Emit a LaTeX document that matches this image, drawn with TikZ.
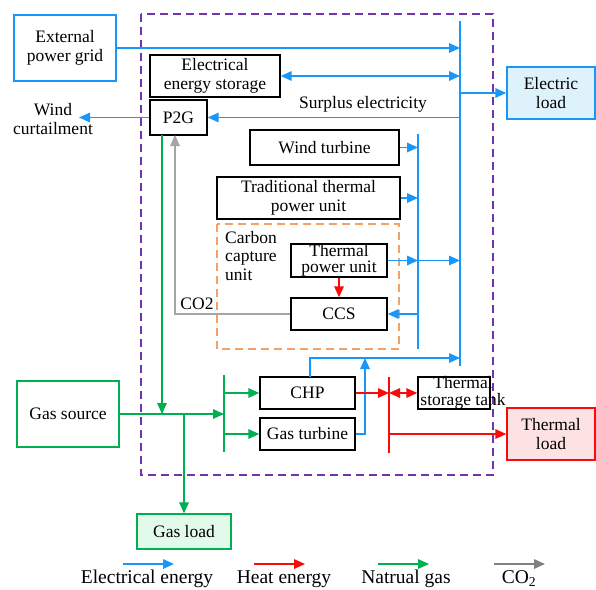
\documentclass[tikz,border=0pt]{standalone}
\usepackage{fontspec}
\setmainfont{Liberation Serif}
\usetikzlibrary{arrows.meta}
\definecolor{eblue}{RGB}{25,150,250}
\definecolor{hred}{RGB}{250,10,10}
\definecolor{ggreen}{RGB}{0,175,80}
\definecolor{cgray}{RGB}{165,165,165}
\definecolor{dpurple}{RGB}{115,50,175}
\definecolor{dorange}{RGB}{245,160,100}
\definecolor{efill}{RGB}{222,242,252}
\definecolor{tfill}{RGB}{252,226,226}
\definecolor{gfill}{RGB}{226,250,234}
\newcommand{\nf}{\fontsize{17.5}{18.5}\selectfont}
\newcommand{\lf}{\fontsize{19.5}{21}\selectfont}
\begin{document}
\begin{tikzpicture}[x=1pt,y=-1pt,
  box/.style={draw=black, line width=1.4pt, fill=white, align=center, inner sep=0pt, font=\nf},
  txt/.style={align=center, inner sep=0pt, font=\nf},
  tip/.style={-{Triangle[length=11pt,width=9.5pt]}},
  dtip/.style={{Triangle[length=11pt,width=9.5pt]}-{Triangle[length=11pt,width=9.5pt]}},
  el/.style={draw=eblue, line width=1.6pt, tip},
  ht/.style={draw=hred, line width=1.6pt, tip},
  gs/.style={draw=ggreen, line width=1.6pt, tip},
  co/.style={draw=cgray, line width=1.6pt, tip},
  busE/.style={draw=eblue, line width=1.6pt},
  busH/.style={draw=hred, line width=1.6pt},
  busG/.style={draw=ggreen, line width=1.6pt},
]
\useasboundingbox (0,0) rectangle (596,589);

% system boundary
\draw[dpurple, line width=1.5pt, dash pattern=on 8pt off 5pt] (141,14) rectangle (493,475);
% carbon capture unit boundary
\draw[dorange, line width=1.5pt, dash pattern=on 8pt off 5pt] (217,224) rectangle (399,349);

% nodes
\node[box, draw=eblue, minimum width=102, minimum height=66] (ext) at (65,48) {External\\power grid};
\node[box, minimum width=130, minimum height=42] (ees) at (215,76) {Electrical\\energy storage};
\node[box, draw=eblue, fill=efill, minimum width=88, minimum height=52] (eload) at (551,93) {Electric\\load};
\node[box, minimum width=57, minimum height=35] (p2g) at (178.5,117.5) {P2G};
\node[box, minimum width=149, minimum height=35] (wt) at (324.5,147.5) {Wind turbine};
\node[box, minimum width=183, minimum height=42] (ttpu) at (308.5,198) {Traditional thermal\\power unit};
\node[box, minimum width=96, minimum height=33, font=\fontsize{17.5}{16.5}\selectfont] (tpu) at (339,260.5) {Thermal\\power unit};
\node[box, minimum width=96, minimum height=32] (ccs) at (339,314) {CCS};
\node[box, draw=ggreen, minimum width=102, minimum height=66] (gsrc) at (68,414) {Gas source};
\node[box, draw=ggreen, fill=gfill, minimum width=94, minimum height=35] (gload) at (184,531.5) {Gas load};
\node[box, minimum width=95, minimum height=32] (chp) at (307.5,393) {CHP};
\node[box, minimum width=95, minimum height=32] (gt) at (307.5,434) {Gas turbine};
\node[box, minimum width=72, minimum height=32] (tst) at (454,393) {};
\node[txt, font=\fontsize{17.5}{16.5}\selectfont] (tsttext) at (463,393) {Thermal\\storage tank};
\node[box, draw=hred, fill=tfill, minimum width=88, minimum height=52] (tload) at (551,434) {Thermal\\load};

\node[txt] (wc) at (53,119) {Wind\\curtailment};
\node[txt] (surplus) at (363,104) {Surplus electricity};
\node[txt, align=left] (ccu) at (251,256) {Carbon\\capture\\unit};
\node[txt] (co2lab) at (197,304) {CO2};

% buses
\coordinate (bT) at (460,21);
\coordinate (bB) at (460,366);
\coordinate (sT) at (418,134);
\coordinate (sB) at (418,349);
\coordinate (gT) at (224,375);
\coordinate (gB) at (224,452);
\coordinate (rT) at (389,377);
\coordinate (rB) at (389,453);
\draw[busE] (bT) -- (bB);
\draw[busE] (sT) -- (sB);
\draw[busG] (gT) -- (gB);
\draw[busH] (rT) -- (rB);

% electrical connections
\draw[el] (ext.east) -- (ext.east -| bT);
\draw[el, dtip] (ees.east) -- (ees.east -| bT);
\draw[el] (bT |- eload.west) -- (eload.west);
\draw[el] (bT |- p2g.east) -- (p2g.east);
\coordinate (wcend) at (79,117.5);
\draw[el] (p2g.west) -- (wcend);
\draw[el] (wt.east) -- (wt.east -| sT);
\draw[el] (ttpu.east) -- (ttpu.east -| sT);
\draw[el] (tpu.east) -- (tpu.east -| sT);
\draw[el] (tpu.east -| sT) -- (tpu.east -| bT);
\draw[el] (ccs.east -| sT) -- (ccs.east);
\coordinate (hy) at (460,358);
\coordinate (chpup) at (310,377);
\draw[el] (chpup) |- (hy);
\coordinate (gtj) at (365,358);
\draw[el] (gt.east) -| (gtj);

% heat
\draw[ht] (tpu.south) -- (ccs.north);
\draw[ht] (chp.east) -- (chp.east -| rT);
\draw[ht, dtip] (chp.east -| rT) -- (tst.west);
\draw[ht] (tload.west -| rT) -- (tload.west);

% CO2
\coordinate (co2x) at (175,135);
\draw[co] (ccs.west) -| (co2x);

% gas
\coordinate (p2gg) at (162,135);
\draw[gs] (p2gg) -- (p2gg |- gsrc.east);
\draw[gs] (gsrc.east) -- (gsrc.east -| gT);
\draw[gs] (gload.north |- gsrc.east) -- (gload.north);
\draw[gs] (chp.west -| gT) -- (chp.west);
\draw[gs] (gt.west -| gT) -- (gt.west);

% legend
\coordinate (l1a) at (123,564); \coordinate (l1b) at (174,564);
\coordinate (l2a) at (254,564); \coordinate (l2b) at (305,564);
\coordinate (l3a) at (378,564); \coordinate (l3b) at (429,564);
\coordinate (l4a) at (494,564); \coordinate (l4b) at (545,564);
\draw[el] (l1a) -- (l1b);
\draw[ht] (l2a) -- (l2b);
\draw[gs] (l3a) -- (l3b);
\draw[co, draw=gray] (l4a) -- (l4b);
\node[anchor=base, inner sep=0pt, font=\lf] (lg1) at (147,583) {Electrical energy};
\node[anchor=base, inner sep=0pt, font=\lf] (lg2) at (284,583) {Heat energy};
\node[anchor=base, inner sep=0pt, font=\lf] (lg3) at (406,583) {Natrual gas};
\node[anchor=base, inner sep=0pt, font=\lf] (lg4) at (519,583) {CO\textsubscript{2}};
\end{tikzpicture}
\end{document}
